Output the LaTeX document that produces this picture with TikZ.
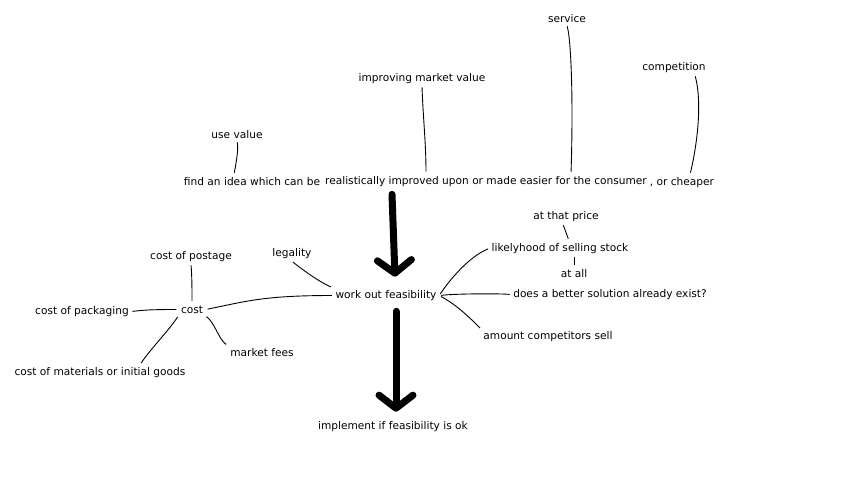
\documentclass[tikz,border=0pt]{standalone}
\usepackage{fontspec}
\setmainfont{DejaVu Sans}
\usetikzlibrary{arrows.meta}

\begin{document}
\begin{tikzpicture}[
    x=1pt, y=-1pt,
    lbl/.style = {font=\fontsize{10.6}{12}\selectfont, inner sep=2.5pt, yshift=-1.5pt},
    link/.style = {draw, line width=0.9pt, shorten <=1pt, shorten >=2pt},
    bigarrow/.style = {draw, line width=7pt, line cap=round, -{Straight Barb[length=13pt,width=34pt,round]}}
]
    \useasboundingbox (0,0) rectangle (860,480);
    \node[lbl] (service) at (567,17) {service};
    \node[lbl] (competition) at (674,66) {competition};
    \node[lbl] (market) at (422,77) {improving market value};
    \node[lbl] (usevalue) at (237,133) {use value};
    \node[lbl] (idea) at (252,180) {find an idea which can be};
    \node[lbl] (improved) at (486,180) {realistically improved upon or made easier for the consumer};
    \node[lbl] (cheaper) at (682,181) {, or cheaper};
    \node[lbl] (price) at (566,215) {at that price};
    \node[lbl] (selling) at (560,247) {likelyhood of selling stock};
    \node[lbl] (atall) at (574,272) {at all};
    \node[lbl] (better) at (610,293) {does a better solution already exist?};
    \node[lbl] (competitors) at (548,335) {amount competitors sell};
    \node[lbl] (feasibility) at (386,294) {work out feasibility};
    \node[lbl] (legality) at (292,252) {legality};
    \node[lbl] (postage) at (191,255) {cost of postage};
    \node[lbl] (cost) at (192,308) {cost};
    \node[lbl] (packaging) at (82,310) {cost of packaging};
    \node[lbl] (fees) at (262,351) {market fees};
    \node[lbl] (materials) at (100,371) {cost of materials or initial goods};
    \node[lbl] (implement) at (393,425) {implement if feasibility is ok};
    \draw[link] (usevalue.south) .. controls +(2,8) and +(1,-6) .. ([xshift=-18pt]idea.north);
    \draw[link] (market.south) .. controls +(1,30) and +(0,-30) .. ([xshift=-60pt]improved.north);
    \draw[link] (service.south) .. controls +(5,20) and +(2,-60) .. ([xshift=85pt]improved.north);
    \draw[link] ([xshift=21pt]competition.south) .. controls +(8,30) and +(6,-25) .. ([xshift=8pt]cheaper.north);
    \draw[link] ([xshift=-3pt]price.south) -- ([xshift=9pt]selling.north);
    \draw[link] ([xshift=14pt]selling.south) -- (atall.north);
    \draw[link] (selling.west) .. controls +(-20,8) and +(10,-15) .. (feasibility.east);
    \draw[link] (better.west) .. controls +(-10,-1) and +(20,-2) .. (feasibility.east);
    \draw[link] (competitors.north west) .. controls +(-15,-15) and +(15,8) .. (feasibility.east);
    \draw[link] (legality.south) .. controls +(15,12) and +(-10,-4) .. (feasibility.north west);
    \draw[link] (feasibility.west) .. controls +(-70,0) and +(40,-8) .. (cost.east);
    \draw[link] (postage.south) .. controls +(1,12) and +(0,-12) .. (cost.north);
    \draw[link] (packaging.east) .. controls +(15,-2) and +(-15,0) .. (cost.west);
    \draw[link] (cost.south west) .. controls +(-10,15) and +(10,-15) .. ([xshift=40pt]materials.north);
    \draw[link] (cost.south east) .. controls +(10,8) and +(-10,-8) .. (fees.north west);
    \draw[bigarrow] ([xshift=-94pt, yshift=-5pt]improved.south) -- ([xshift=9pt, yshift=11pt]feasibility.north);
    \draw[bigarrow] ([xshift=10pt, yshift=-8pt]feasibility.south) -- ([xshift=3pt, yshift=7pt]implement.north);
\end{tikzpicture}
\end{document}
